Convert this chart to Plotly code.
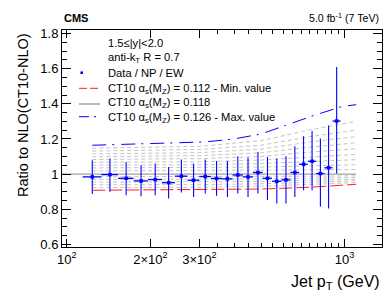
import plotly.graph_objects as go

# ---------------- data ----------------
bin_edges = [114, 133, 153, 174, 196, 220, 245, 272, 300, 330, 362, 395, 430,
             468, 507, 548, 592, 638, 686, 737, 790, 846, 905, 967]
ratio = [0.984, 0.997, 0.976, 0.961, 0.969, 0.951, 0.988, 0.965, 0.986, 0.975,
         0.973, 0.995, 0.984, 1.009, 0.976, 0.959, 0.967, 1.009, 1.056, 1.073,
         1.003, 1.036, 1.302]
err_up = [0.095, 0.091, 0.093, 0.089, 0.091, 0.090, 0.095, 0.095, 0.097, 0.100,
          0.102, 0.106, 0.110, 0.117, 0.121, 0.129, 0.134, 0.149, 0.159, 0.172,
          0.199, 0.241, 0.307]
err_dn = [0.098, 0.098, 0.096, 0.087, 0.089, 0.090, 0.093, 0.095, 0.096, 0.099,
          0.103, 0.105, 0.114, 0.119, 0.124, 0.126, 0.134, 0.139, 0.148, 0.165,
          0.189, 0.232, 0.299]

# theory curves (ratio to CT10 alpha_s=0.118)
theory_pt = [123.5, 300, 500, 750, 1100]
ct10_min = [0.908, 0.910, 0.915, 0.925, 0.942]          # alpha_s = 0.112
ct10_central_pt = [96.1, 1100]
ct10_central = [1.0, 1.0]                               # alpha_s = 0.118
max_pt = [123.5, 158, 200, 250, 315, 400, 500, 620, 780, 980, 1100]
ct10_max = [1.164, 1.168, 1.172, 1.175, 1.183, 1.200, 1.228, 1.280, 1.335, 1.385, 1.395]

scan_up = [
    [1.018, 1.019, 1.020, 1.024, 1.026],
    [1.035, 1.036, 1.040, 1.047, 1.053],
    [1.051, 1.053, 1.060, 1.072, 1.082],
    [1.067, 1.070, 1.080, 1.098, 1.112],
    [1.083, 1.088, 1.100, 1.125, 1.144],
    [1.099, 1.105, 1.121, 1.153, 1.178],
    [1.115, 1.122, 1.142, 1.183, 1.213],
    [1.131, 1.140, 1.164, 1.213, 1.250],
    [1.147, 1.158, 1.190, 1.252, 1.300],
]
scan_dn = [
    [0.985, 0.985, 0.986, 0.988, 0.990],
    [0.969, 0.970, 0.972, 0.977, 0.980],
    [0.954, 0.955, 0.958, 0.965, 0.970],
    [0.939, 0.940, 0.945, 0.954, 0.961],
    [0.923, 0.925, 0.931, 0.943, 0.951],
]

x_tickvals = [100, 200, 300, 1000]
x_ticktext = ["10<sup>2</sup>", "2×10<sup>2</sup>", "3×10<sup>2</sup>", "10<sup>3</sup>"]
x_minor = [350, 400, 450, 500, 550, 600, 650, 700, 750, 800, 850, 900, 950]
y_tickvals = [0.6, 0.8, 1.0, 1.2, 1.4, 1.6, 1.8]
y_ticktext = ["0.6", "0.8", "1", "1.2", "1.4", "1.6", "1.8"]

# ---------------- figure ----------------
centers = [(bin_edges[i] + bin_edges[i + 1]) / 2 for i in range(len(ratio))]
ex_plus = [bin_edges[i + 1] - centers[i] for i in range(len(ratio))]
ex_minus = [centers[i] - bin_edges[i] for i in range(len(ratio))]

FONT = "Liberation Sans, Arial, Helvetica, sans-serif"
BLUE = "#0000ff"

fig = go.Figure()

for s in scan_up + scan_dn:
    fig.add_trace(go.Scatter(x=theory_pt, y=s, mode="lines",
                             line=dict(color="#c4c4c4", width=1, dash="4px,3px"),
                             hoverinfo="skip", showlegend=False))

fig.add_trace(go.Scatter(x=ct10_central_pt, y=ct10_central, mode="lines",
                         line=dict(color="#8a8a8a", width=1), showlegend=False))
fig.add_trace(go.Scatter(x=theory_pt, y=ct10_min, mode="lines",
                         line=dict(color="#ff2020", width=1, dash="13px,4px"),
                         showlegend=False))
fig.add_trace(go.Scatter(x=max_pt, y=ct10_max, mode="lines",
                         line=dict(color=BLUE, width=1, dash="14px,6px,2px,7px"),
                         showlegend=False))

fig.add_trace(go.Scatter(
    x=centers, y=ratio, mode="markers",
    marker=dict(symbol="square", size=3.5, color=BLUE),
    error_x=dict(type="data", symmetric=False, array=ex_plus, arrayminus=ex_minus,
                 color=BLUE, thickness=1.3, width=0),
    error_y=dict(type="data", symmetric=False, array=err_up, arrayminus=err_dn,
                 color=BLUE, thickness=1.1, width=0),
    showlegend=False))

# ---------------- layout ----------------
L, R, T, B = 62, 8, 30, 55
W, H = 390, 302
pw, ph = W - L - R, H - T - B


def px(xp):
    return (xp - L) / pw


def py(yp):
    return 1 - (yp - T) / ph


ann = []


def text(t, x, y, size, xanchor="left", yanchor="middle", bold=False, angle=0):
    ann.append(dict(text=("<b>%s</b>" % t) if bold else t, x=px(x), y=py(y),
                    xref="paper", yref="paper", showarrow=False,
                    xanchor=xanchor, yanchor=yanchor, textangle=angle,
                    font=dict(family=FONT, size=size, color="black")))


text("CMS", 62, 17.5, 11, bold=True)
text("5.0 fb<sup>-1</sup> (7 TeV)", 381, 17.5, 10.6, xanchor="right")
text("1.5≤|y|<2.0", 106, 42.7, 11.2)
text("anti-k<sub>T</sub> R = 0.7", 106, 58, 11.2)
text("Data / NP / EW", 106, 72.7, 11.2)
text("CT10 α<sub>s</sub>(M<sub>Z</sub>) = 0.112 - Min. value", 106, 88.5, 11.2)
text("CT10 α<sub>s</sub>(M<sub>Z</sub>) = 0.118", 106, 103.5, 11.2)
text("CT10 α<sub>s</sub>(M<sub>Z</sub>) = 0.126 - Max. value", 106, 118, 11.2)
text("Jet p<sub>T</sub> (GeV)", 382, 282, 16, xanchor="right")
text("Ratio to NLO(CT10-NLO)", 23, 31, 14.5, xanchor="center", yanchor="top", angle=-90)

shapes = [
    dict(type="line", xref="paper", yref="paper", x0=px(79), x1=px(100), y0=py(88.3), y1=py(88.3),
         line=dict(color="#ff2020", width=1, dash="8px,3px")),
    dict(type="line", xref="paper", yref="paper", x0=px(79), x1=px(100), y0=py(104), y1=py(104),
         line=dict(color="#8a8a8a", width=1.2)),
    dict(type="line", xref="paper", yref="paper", x0=px(79), x1=px(100), y0=py(116.7), y1=py(116.7),
         line=dict(color=BLUE, width=1, dash="10px,5px,2px,5px")),
    dict(type="rect", xref="paper", yref="paper", x0=px(80.4), x1=px(83.0), y0=py(71.4), y1=py(74.0),
         line=dict(width=0), fillcolor=BLUE),
]

fig.update_layout(
    width=W, height=H,
    margin=dict(l=L, r=R, t=T, b=B, pad=0),
    paper_bgcolor="white", plot_bgcolor="white",
    font=dict(family=FONT, color="black"),
    showlegend=False,
    annotations=ann, shapes=shapes,
    xaxis=dict(type="log", range=[1.9827, 3.1345],
               tickmode="array", tickvals=x_tickvals, ticktext=x_ticktext,
               ticks="inside", ticklen=8, tickwidth=1, tickcolor="black",
               minor=dict(tickmode="array", tickvals=x_minor, ticks="inside",
                          ticklen=4, tickwidth=1, tickcolor="black"),
               showline=True, linecolor="black", linewidth=1, mirror="allticks",
               showgrid=False, zeroline=False,
               tickfont=dict(family=FONT, size=13)),
    yaxis=dict(range=[0.585, 1.82],
               tickmode="array", tickvals=y_tickvals, ticktext=y_ticktext,
               ticks="inside", ticklen=9, tickwidth=1, tickcolor="black",
               minor=dict(dtick=0.05, ticks="inside", ticklen=5, tickwidth=1,
                          tickcolor="black", showgrid=False),
               showline=True, linecolor="black", linewidth=1, mirror="allticks",
               showgrid=False, zeroline=False,
               tickfont=dict(family=FONT, size=13)),
)

fig.write_html("out.html", config={"displayModeBar": False},
               post_script="document.body.style.margin='0';document.body.style.padding='0';")
